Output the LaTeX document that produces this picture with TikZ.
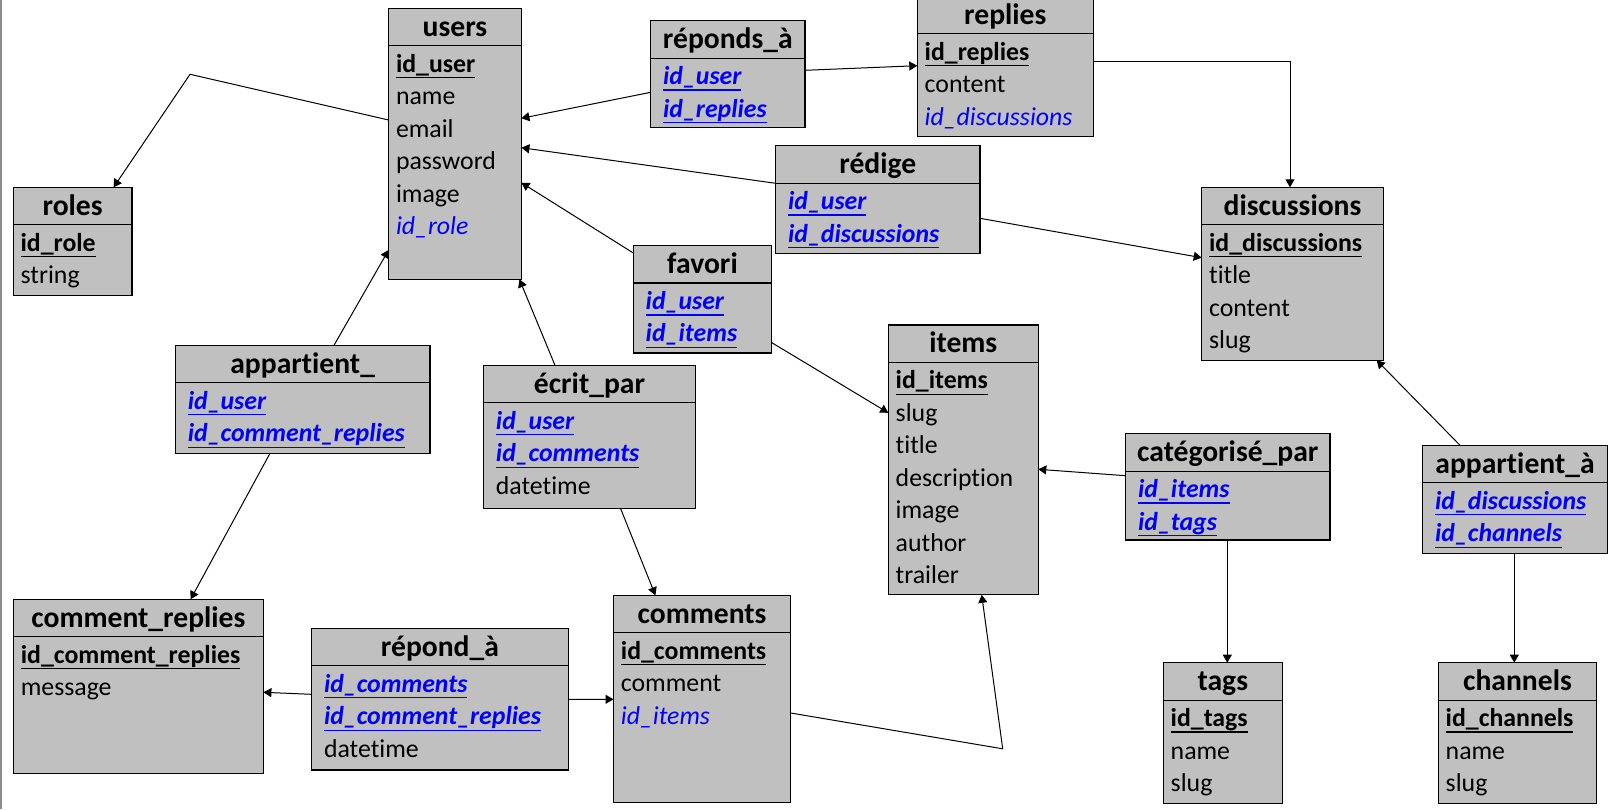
\documentclass[tikz,border=0pt]{standalone}
\usepackage{fontspec}
\setmainfont{Carlito}[Ligatures=NoCommon]
\usetikzlibrary{arrows.meta,calc,fit}

\definecolor{tablegray}{RGB}{192,192,192}
\definecolor{keyblue}{RGB}{0,0,255}

\newcommand{\titlefont}{\fontsize{14.8pt}{18pt}\selectfont\bfseries}
\newcommand{\fieldfont}{\fontsize{12.9pt}{16pt}\selectfont}
\newcommand{\keyrule}[1]{\setbox0\hbox{#1}\rlap{\rule[-3.1pt]{\wd0}{0.65pt}}\box0}
\newcommand{\keyfield}[1]{\keyrule{\bfseries #1}}
\newcommand{\fkfield}[1]{{\color{keyblue}\itshape #1}}
\newcommand{\linkfield}[1]{{\color{keyblue}\keyrule{\bfseries\itshape #1}}}

\tikzset{
  tablebox/.style={draw=black, line width=0.65pt, fill=tablegray, inner sep=0pt, outer sep=0pt},
  tabletitle/.style={font=\titlefont, inner sep=0pt},
  tablefield/.style={font=\fieldfont, inner sep=0pt},
  link/.style={->, line width=0.5pt},
}

% [indent]{name}{left}{top}{right}{bottom}{title}{fields}
\newcommand{\dbtable}[8][7]{%
  \node[tablebox, fit={(#3,#4) (#5,#6)}] (#2) {};
  \draw[line width=0.65pt] ($(#2.north west)+(0,37.5)$) -- ($(#2.north east)+(0,37.5)$);
  \node[tabletitle, anchor=base] (#2-title) at ($(#2.north)+(0,27.8)$) {#7};
  \foreach \f [count=\n] in {#8}
    \node[tablefield, anchor=base west] (#2-\n) at ($(#2.north west)+(#1,{63.8+(\n-1)*32.5})$) {\f};
}

\begin{document}
\begin{tikzpicture}[x=0.5pt, y=-0.5pt, >={Triangle[length=4pt,width=4.5pt]}]
  \useasboundingbox (0,0) rectangle (1612,809);
  \draw[black!45, line width=1pt] (1,0) -- (1,809);

  % tables
  \dbtable{users}{388.6}{8.3}{521.4}{279.3}{users}{\keyfield{id\_user}, name, email, password, image, \fkfield{id\_role}}
  \dbtable{roles}{13.2}{187.3}{132.1}{295.3}{roles}{\keyfield{id\_role}, string}
  \dbtable[12]{reponds}{650.7}{20.7}{805}{127.7}{réponds\_à}{\linkfield{id\_user}, \linkfield{id\_replies}}
  \dbtable{replies}{917.3}{-3.7}{1093.3}{136.7}{replies}{\keyfield{id\_replies}, content, \fkfield{id\_discussions}}
  \dbtable[12]{redige}{775.7}{145.7}{980}{253.3}{rédige}{\linkfield{id\_user}, \linkfield{id\_discussions}}
  \dbtable{discussions}{1201.7}{187.3}{1383.3}{360.3}{discussions}{\keyfield{id\_discussions}, title, content, slug}
  \dbtable[12]{favori}{633.3}{245.5}{771.7}{353}{favori}{\linkfield{id\_user}, \linkfield{id\_items}}
  \dbtable{items}{888.3}{324.9}{1038.3}{594.8}{items}{\keyfield{id\_items}, slug, title, description, image, author, trailer}
  \dbtable[12]{categorise}{1125.7}{433.7}{1330}{540}{catégorisé\_par}{\linkfield{id\_items}, \linkfield{id\_tags}}
  \dbtable[12]{belongs}{1422.7}{445.3}{1607.3}{553.3}{appartient\_à}{\linkfield{id\_discussions}, \linkfield{id\_channels}}
  \dbtable{tags}{1163.3}{662.7}{1282.3}{803.3}{tags}{\keyfield{id\_tags}, name, slug}
  \dbtable{channels}{1438.3}{662.7}{1596.7}{803.3}{channels}{\keyfield{id\_channels}, name, slug}
  \dbtable[12]{appartient}{175.4}{345.3}{429.9}{453.3}{appartient\_}{\linkfield{id\_user}, \linkfield{id\_comment\_replies}}
  \dbtable[12]{ecrit}{483.5}{365.3}{695.5}{508.3}{écrit\_par}{\linkfield{id\_user}, \linkfield{id\_comments}, datetime}
  \dbtable{commentreplies}{13.4}{599.3}{263.4}{773.3}{comment\_replies}{\keyfield{id\_comment\_replies}, message}
  \dbtable[12]{repond}{311.6}{628.3}{568.3}{770}{répond\_à}{\linkfield{id\_comments}, \linkfield{id\_comment\_replies}, datetime}
  \dbtable{comments}{613.5}{595.3}{790.7}{802.4}{comments}{\keyfield{id\_comments}, comment, \fkfield{id\_items}}

  % links
  \coordinate (rolesbend) at (190,74.3);
  \coordinate (itemsbend) at (1002.7,748.8);
  \draw[link] ($(users.north west)+(0,111.7)$) -- (rolesbend) -- ($(roles.north west)+(100.4,0)$);
  \draw[link] ($(reponds.north west)+(0,71.6)$) -- ($(users.north east)+(0,110)$);
  \draw[link] ($(reponds.north east)+(0,49.6)$) -- ($(replies.north west)+(0,69.4)$);
  \draw[link] ($(replies.north east)+(0,64.7)$) -| ($(discussions.north west)+(88.3,0)$);
  \draw[link] ($(redige.north west)+(0,37.6)$) -- ($(users.north east)+(0,139.4)$);
  \draw[link] ($(redige.north east)+(0,72.6)$) -- ($(discussions.north west)+(0,70.4)$);
  \draw[link] ($(favori.north west)+(0,7.5)$) -- ($(users.north east)+(0,174.4)$);
  \draw[link] ($(favori.north east)+(0,97.1)$) -- ($(items.north west)+(0,87.9)$);
  \draw[link] ($(categorise.north west)+(0,42)$) -- ($(items.north east)+(0,144.4)$);
  \draw[link] ($(categorise.south west)+(101.6,0)$) -- ($(tags.north west)+(64,0)$);
  \draw[link] ($(belongs.north west)+(37.3,0)$) -- ($(discussions.south east)+(-6.6,0)$);
  \draw[link] ($(belongs.south west)+(91.6,0)$) -- ($(channels.north west)+(76,0)$);
  \draw[link] ($(appartient.north west)+(158.6,0)$) -- ($(users.north west)+(0,241.7)$);
  \draw[link] ($(appartient.south west)+(94.6,0)$) -- ($(commentreplies.north west)+(177.2,0)$);
  \draw[link] ($(ecrit.north west)+(71.5,0)$) -- ($(users.south east)+(-2,0)$);
  \draw[link] ($(ecrit.south west)+(137,0)$) -- ($(comments.north west)+(41.9,0)$);
  \draw[link] ($(repond.north west)+(0,66)$) -- ($(commentreplies.north east)+(0,93)$);
  \draw[link] ($(repond.north east)+(0,71)$) -- ($(comments.north west)+(0,104)$);
  \draw[link] ($(comments.north east)+(0,117.7)$) -- (itemsbend) -- ($(items.south west)+(93.4,0)$);
\end{tikzpicture}
\end{document}
